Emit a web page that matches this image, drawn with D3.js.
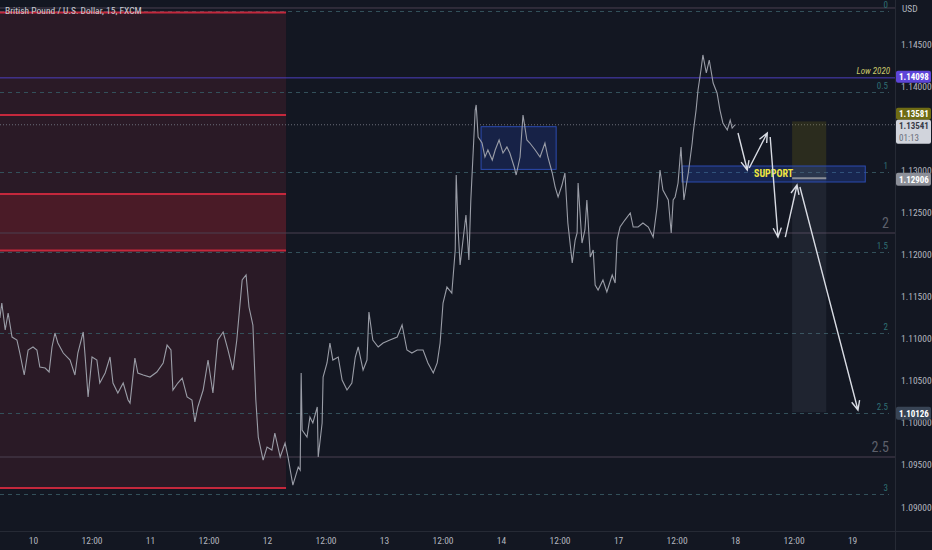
<!DOCTYPE html>
<html><head><meta charset="utf-8">
<script src="https://cdn.jsdelivr.net/npm/d3@7"></script>
<style>
body{margin:0;background:#131722;}
svg{display:block;}
text{font-family:"Liberation Sans Narrow","Roboto Condensed","Liberation Sans",Arial,sans-serif;}
</style>
</head><body>
<svg id="c" width="932" height="550"></svg>
<script>
// ---- data (time in trading hours from day "10" 00:00, weekend collapsed) ----
const priceTimes = [-6.8,-6.4,-5.7,-5.1,-4.3,-3.3,-2.7,-1.8,-1.0,0,0.8,1.4,2.5,3.3,3.9,4.5,5.1,6.2,7.6,8.6,9.2,10.3,10.7,11.3,12.1,13.1,13.7,14.8,15.8,16.4,17.4,18.5,19.5,19.9,20.9,21.5,22.6,24.0,25.4,26.7,27.5,28.3,28.7,29.7,30.6,31.6,32.6,33.2,33.8,34.9,35.9,36.9,37.9,39.0,40.0,41.0,41.8,42.9,43.7,44.3,45.1,45.7,46.2,47.2,48.0,49.0,49.6,50.7,51.7,52.3,53.3,54.4,54.8,55.0,55.2,56.2,56.8,57.4,58.3,58.5,59.3,59.5,60.3,60.9,61.5,62.6,63.4,64.4,65.4,66.1,66.7,67.7,68.5,68.9,69.7,70.8,71.8,73.2,74.7,75.7,76.7,77.7,78.8,80.0,81.0,82.1,82.9,83.5,84.1,84.9,85.9,86.6,86.8,87.2,87.6,88.2,88.8,89.4,89.8,90.3,90.7,90.9,91.3,92.1,92.7,93.3,94.2,94.8,95.6,96.4,97.2,97.8,98.7,99.1,99.9,100.5,101.3,101.9,103.0,104.0,105.0,105.6,106.5,107.1,107.7,108.5,109.1,109.7,110.6,111.2,111.6,111.8,112.6,113.2,113.6,114.3,114.9,115.3,115.9,116.9,117.7,118.8,119.4,119.8,120.4,121.4,122.5,123.1,124.1,125.1,126.2,127.2,128.0,128.6,129.2,130.3,130.9,131.3,131.7,132.3,132.9,133.5,134.4,135.2,135.4,136.0,136.4,137.0,137.4,138.1,138.7,139.5,140.3,140.9,141.5,142.4,143.0,143.4,144.0];
const priceValues = [1.11245,1.11423,1.11103,1.11305,1.11019,1.10984,1.10829,1.10568,1.10865,1.10901,1.10865,1.10663,1.10651,1.10604,1.10901,1.11067,1.10948,1.10829,1.10746,1.10568,1.10829,1.11079,1.10782,1.10307,1.10782,1.10746,1.10473,1.10592,1.10782,1.10473,1.10354,1.10473,1.10271,1.10235,1.10770,1.10592,1.10568,1.10544,1.10604,1.10711,1.10924,1.10865,1.10390,1.10473,1.10532,1.10307,1.10271,1.10010,1.10188,1.10390,1.10746,1.10354,1.10984,1.11079,1.10865,1.10627,1.10984,1.11697,1.11756,1.11376,1.11162,1.10271,1.09831,1.09558,1.09713,1.09677,1.09879,1.09594,1.09760,1.09594,1.09261,1.09475,1.09439,1.10592,1.09915,1.09831,1.10069,1.09998,1.10188,1.09594,1.09998,1.10544,1.10711,1.10948,1.10746,1.10782,1.10509,1.10390,1.10473,1.10782,1.10901,1.10627,1.10746,1.11316,1.10984,1.10901,1.10948,1.10984,1.11019,1.11162,1.10865,1.10829,1.10865,1.10865,1.10711,1.10592,1.10711,1.10948,1.11423,1.11613,1.11542,1.12053,1.12944,1.12291,1.11875,1.12172,1.12469,1.11934,1.12647,1.13241,1.13716,1.13776,1.13395,1.13324,1.13158,1.13241,1.13122,1.13241,1.13360,1.13205,1.13277,1.13205,1.13039,1.12944,1.13158,1.13657,1.13360,1.13324,1.13241,1.13158,1.13324,1.13158,1.12968,1.12801,1.12683,1.12825,1.12968,1.12374,1.11899,1.12172,1.12255,1.12849,1.12136,1.12291,1.12647,1.11970,1.12053,1.11637,1.11578,1.11697,1.11554,1.11756,1.11661,1.12172,1.12326,1.12409,1.12493,1.12326,1.12326,1.12374,1.12326,1.12207,1.12564,1.13003,1.12766,1.12647,1.12255,1.12647,1.12683,1.12849,1.13277,1.12647,1.12968,1.13324,1.13443,1.13716,1.13954,1.14191,1.14370,1.14156,1.14310,1.14037,1.13918,1.13716,1.13562,1.13479,1.13597,1.13502,1.13541];

const timeTicks = [0,12,24,36,48,60,72,84,96,108,120,132,144,156,168];
const timeTickLabels = ["10","12:00","11","12:00","12","12:00","13","12:00","14","12:00","17","12:00","18","12:00","19"];
// 1.13500 is hidden under the last-price tag in the reference, so it is not listed
const priceTicks = [1.09,1.095,1.10,1.105,1.11,1.115,1.12,1.125,1.13,1.14,1.145];

const fibLabels = ["0","0.5","1","1.5","2","2.5","3"];
const fibPrices = [1.14892,1.13936,1.12980,1.12024,1.11067,1.10111,1.09155];

const zoneTimes = [-8, 51.9];
const zoneEdges = [1.14875, 1.09226];
const zoneBand = [1.12718, 1.12047];
const zoneLines = [1.14875, 1.13657, 1.12718, 1.12047, 1.09226];

const greyLevels = [1.14928, 1.12255, 1.09594];
const greyLabels = ["", "2", "2.5"];

const low2020 = 1.14098;
const lastPrice = 1.13541;
const lastTime = "01:13";

const rangeBox = [91.9, 107.3, 1.13518, 1.13011];
const supportBox = [133.1, 170.7, 1.13051, 1.12861];
const positionTimes = [155.7, 162.7];
const positionPrices = {stop: 1.13581, entry: 1.12906, target: 1.10126};

const arrowsFrom = [[144.6,1.13443],[146.9,1.13027],[151.2,1.13395],[154.3,1.12207],[157.3,1.12801]];
const arrowsTo   = [[146.5,1.13003],[150.6,1.13443],[152.8,1.12207],[156.7,1.12825],[169.2,1.10152]];

// ---- layout ----
const W = 932, H = 550, plotR = 895, plotB = 531;
const svg = d3.select("#c");
svg.append("rect").attr("width", W).attr("height", H).attr("fill", "#131722");

const x = d3.scaleLinear().domain([-6.77, 176.8]).range([0, plotR]);
const y = d3.scaleLinear().domain([1.08715, 1.15023]).range([plotB, 0]);

svg.append("defs").append("clipPath").attr("id", "clip")
  .append("rect").attr("width", plotR).attr("height", plotB);
const g = svg.append("g").attr("clip-path", "url(#clip)");

// red zone
g.append("rect").attr("x", x(zoneTimes[0])).attr("width", x(zoneTimes[1]) - x(zoneTimes[0]))
  .attr("y", y(zoneEdges[0])).attr("height", y(zoneEdges[1]) - y(zoneEdges[0]))
  .attr("fill", "#2a1a26");
g.append("rect").attr("x", x(zoneTimes[0])).attr("width", x(zoneTimes[1]) - x(zoneTimes[0]))
  .attr("y", y(zoneBand[0])).attr("height", y(zoneBand[1]) - y(zoneBand[0]))
  .attr("fill", "#4a1b27");

// grey solid levels
g.selectAll(".gl").data(greyLevels).join("line")
  .attr("x1", 0).attr("x2", plotR).attr("y1", d => y(d)).attr("y2", d => y(d))
  .attr("stroke", "#4a4150").attr("stroke-width", 1);
g.selectAll(".glt").data(greyLevels).join("text")
  .attr("x", 889).attr("y", d => y(d) - 5).attr("text-anchor", "end")
  .attr("fill", "#5d606b").attr("font-size", 14).text((d, i) => greyLabels[i]);

// fib dashed levels
g.selectAll(".fl").data(fibPrices).join("line")
  .attr("x1", 0).attr("x2", 889).attr("y1", d => Math.round(y(d)) + 0.5).attr("y2", d => Math.round(y(d)) + 0.5)
  .attr("stroke", "#33505a").attr("stroke-width", 1).attr("stroke-dasharray", "4,4");
g.selectAll(".flt").data(fibPrices).join("text")
  .attr("x", 888).attr("y", d => y(d) - 3).attr("text-anchor", "end")
  .attr("fill", "#2f6f73").attr("font-size", 9).text((d, i) => fibLabels[i]);

// red zone lines
g.selectAll(".zl").data(zoneLines).join("line")
  .attr("x1", x(zoneTimes[0])).attr("x2", x(zoneTimes[1]))
  .attr("y1", d => y(d)).attr("y2", d => y(d))
  .attr("stroke", "#c4283c").attr("stroke-width", 2);

// Low 2020 line
g.append("line").attr("x1", 0).attr("x2", plotR).attr("y1", y(low2020)).attr("y2", y(low2020))
  .attr("stroke", "#4d3fbf").attr("stroke-width", 1);
g.append("text").attr("x", 890).attr("y", y(low2020) - 4).attr("text-anchor", "end")
  .attr("fill", "#c9c76a").attr("font-size", 9).attr("font-style", "italic").text("Low 2020");

// last price dotted line
g.append("line").attr("x1", 0).attr("x2", plotR).attr("y1", y(lastPrice)).attr("y2", y(lastPrice))
  .attr("stroke", "#6a6d78").attr("stroke-width", 1).attr("stroke-dasharray", "1,2");

// range box
g.append("rect").attr("x", x(rangeBox[0])).attr("width", x(rangeBox[1]) - x(rangeBox[0]))
  .attr("y", y(rangeBox[2])).attr("height", y(rangeBox[3]) - y(rangeBox[2]))
  .attr("fill", "rgba(41,82,220,0.20)").attr("stroke", "#2c4bb0").attr("stroke-width", 1);

// position tool
g.append("rect").attr("x", x(positionTimes[0])).attr("width", x(positionTimes[1]) - x(positionTimes[0]))
  .attr("y", y(positionPrices.stop)).attr("height", y(positionPrices.entry) - y(positionPrices.stop))
  .attr("fill", "rgba(130,125,20,0.22)");
g.append("rect").attr("x", x(positionTimes[0])).attr("width", x(positionTimes[1]) - x(positionTimes[0]))
  .attr("y", y(positionPrices.entry)).attr("height", y(positionPrices.target) - y(positionPrices.entry))
  .attr("fill", "rgba(120,135,160,0.12)");

// support box
g.append("rect").attr("x", x(supportBox[0])).attr("width", x(supportBox[1]) - x(supportBox[0]))
  .attr("y", y(supportBox[2])).attr("height", y(supportBox[3]) - y(supportBox[2]))
  .attr("fill", "rgba(41,82,220,0.25)").attr("stroke", "#2c4bb0").attr("stroke-width", 1);
g.append("line").attr("x1", x(positionTimes[0])).attr("x2", x(positionTimes[1]))
  .attr("y1", y(positionPrices.entry)).attr("y2", y(positionPrices.entry))
  .attr("stroke", "#8a8d96").attr("stroke-width", 2);
g.append("text").attr("x", (x(supportBox[0]) + x(supportBox[1])) / 2)
  .attr("y", (y(supportBox[2]) + y(supportBox[3])) / 2 + 3.5).attr("text-anchor", "middle")
  .attr("fill", "#f0e640").attr("font-size", 10).attr("font-weight", "bold").text("SUPPORT");

// price line
const line = d3.line().x((d, i) => x(priceTimes[i])).y(d => y(d));
g.append("path").datum(priceValues).attr("d", line)
  .attr("fill", "none").attr("stroke", "#9a9da7").attr("stroke-width", 1.1).attr("stroke-linejoin", "miter");

// arrows
arrowsFrom.forEach((a, i) => {
  const b = arrowsTo[i];
  const x1 = x(a[0]), y1 = y(a[1]), x2 = x(b[0]), y2 = y(b[1]);
  const ang = Math.atan2(y2 - y1, x2 - x1);
  const L = 10, s = 0.42;
  const p = `M${x1},${y1}L${x2},${y2}M${x2 - L * Math.cos(ang - s)},${y2 - L * Math.sin(ang - s)}L${x2},${y2}L${x2 - L * Math.cos(ang + s)},${y2 - L * Math.sin(ang + s)}`;
  g.append("path").attr("d", p).attr("fill", "none").attr("stroke", "#d8dbe3").attr("stroke-width", 1.4);
});

// title
svg.append("text").attr("x", 5).attr("y", 14).attr("fill", "#c8cbd3").attr("font-size", 9.5)
  .text("British Pound / U.S. Dollar, 15, FXCM");

// axes separators
svg.append("line").attr("x1", plotR + 0.5).attr("x2", plotR + 0.5).attr("y1", 0).attr("y2", H)
  .attr("stroke", "#262a35");
svg.append("line").attr("x1", 0).attr("x2", W).attr("y1", plotB + 0.5).attr("y2", plotB + 0.5)
  .attr("stroke", "#262a35");

// y axis
const ya = svg.append("g").attr("transform", `translate(${plotR},0)`)
  .call(d3.axisRight(y).tickValues(priceTicks).tickFormat(d3.format(".5f")).tickSize(0).tickPadding(6));
ya.select(".domain").remove();
ya.selectAll("text").attr("fill", "#b2b5be").attr("font-size", 9.5);
svg.append("text").attr("x", 902).attr("y", 12).attr("fill", "#b2b5be").attr("font-size", 9.5).text("USD");

// x axis
const xa = svg.append("g").attr("transform", `translate(0,${plotB})`)
  .call(d3.axisBottom(x).tickValues(timeTicks).tickFormat((d, i) => timeTickLabels[i]).tickSize(0).tickPadding(6));
xa.select(".domain").remove();
xa.selectAll("text").attr("fill", "#b2b5be").attr("font-size", 9.5);

// price labels on axis
function tag(price, cy, bg, fg, h, extra) {
  const gg = svg.append("g");
  gg.append("rect").attr("x", plotR + 1).attr("y", cy - h / 2).attr("width", W - plotR - 2).attr("height", extra ? h + 12 : h)
    .attr("rx", 2).attr("fill", bg);
  gg.append("text").attr("x", 899).attr("y", cy + 3.5).attr("fill", fg).attr("font-size", 9)
    .attr("font-weight", "bold").text(d3.format(".5f")(price));
  if (extra) gg.append("text").attr("x", 899).attr("y", cy + 15).attr("fill", "#6a6d78").attr("font-size", 9).text(extra);
}
tag(low2020, y(low2020) - 1, "#5d45d8", "#ffffff", 12);
tag(positionPrices.stop, y(lastPrice) - 11, "#6f6c14", "#ffffff", 12);
tag(lastPrice, y(lastPrice) + 1, "#d1d4dc", "#3a3d48", 12, lastTime);
tag(positionPrices.entry, y(positionPrices.entry) + 1, "#8c8f98", "#ffffff", 13);
tag(positionPrices.target, y(positionPrices.target) + 1, "#384455", "#ffffff", 13);
</script>
</body></html>
